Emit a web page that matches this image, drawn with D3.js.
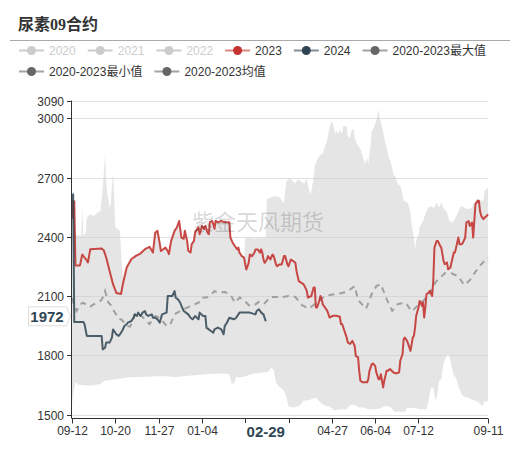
<!DOCTYPE html>
<html>
<head>
<meta charset="utf-8">
<script src="https://cdn.jsdelivr.net/npm/d3@7"></script>
<style>
  body { margin: 0; background: #fff; }
  svg { display: block; font-family: "Liberation Sans", Arial, "Noto Sans CJK SC", sans-serif; }
</style>
</head>
<body>
<svg id="chart" width="519" height="460"></svg>
<script>
const chartTitle = '尿素09合约';
const watermark = '紫金天风期货';
const yTicks = [1500, 1800, 2100, 2400, 2700, 3000, 3090];
const xTickLabels = ['09-12', '10-20', '11-27', '01-04', '02-11', '03-20', '04-27', '06-04', '07-12', '09-11'];
const legendNames = ['2020', '2021', '2022', '2023', '2024', '2020-2023最大值', '2020-2023最小值', '2020-2023均值'];
const legendColors = ['#ccc', '#ccc', '#ccc', '#c23531', '#2f4554', '#666', '#666', '#666'];
const legendOff = [true, true, true, false, false, false, false, false];

// 2023 contract
const s2023 = [
  ['09-12',2490],['09-13',2580],['09-14',2580],['09-15',2255],['09-19',2255],['09-21',2310],['09-23',2295],['09-25',2280],['09-26',2270],['09-28',2337],
  ['10-08',2340],['10-10',2330],['10-12',2295],['10-15',2227],['10-18',2160],['10-21',2115],['10-25',2110],['10-27',2170],['10-30',2244],
  ['11-03',2286],['11-07',2303],['11-11',2315],['11-15',2337],['11-19',2349],['11-22',2320],['11-24',2420],['11-26',2430],['11-28',2365],['11-29',2328],
  ['12-03',2345],['12-05',2328],['12-06',2312],['12-08',2379],['12-11',2430],['12-13',2447],['12-15',2480],['12-17',2396],['12-19',2390],['12-20',2430],
  ['12-22',2380],['12-23',2329],['12-25',2320],['12-26',2362],['12-28',2379],['12-29',2421],['12-31',2440],
  ['01-01',2447],['01-02',2413],['01-04',2455],['01-06',2440],['01-07',2455],['01-09',2420],['01-10',2413],['01-11',2475],['01-13',2480],['01-14',2463],
  ['01-15',2440],['01-16',2480],['01-18',2473],['01-21',2480],['01-24',2473],['01-28',2473],['01-29',2395],['01-31',2370],
  ['02-02',2352],['02-04',2336],['02-05',2345],['02-06',2319],['02-08',2302],['02-10',2294],['02-11',2260],['02-12',2234],['02-14',2268],['02-15',2310],
  ['02-17',2302],['02-19',2319],['02-20',2336],['02-22',2336],['02-24',2319],['02-25',2336],['02-26',2319],['02-27',2285],['02-28',2268],
  ['03-01',2285],['03-02',2302],['03-04',2285],['03-06',2310],['03-07',2302],['03-09',2260],['03-10',2251],['03-12',2260],['03-14',2260],['03-16',2302],
  ['03-17',2302],['03-19',2260],['03-20',2251],['03-22',2285],['03-24',2277],['03-26',2268],['03-27',2226],['03-29',2175],
  ['04-02',2160],['04-03',2151],['04-05',2126],['04-06',2092],['04-09',2100],['04-11',2143],['04-12',2143],['04-13',2042],['04-14',2042],['04-16',2076],
  ['04-17',2100],['04-18',2085],['04-19',2058],['04-21',2042],['04-23',2025],['04-25',1991],['04-28',2000],
  ['05-01',2000],['05-04',1995],['05-05',1958],['05-06',1958],['05-08',1924],['05-09',1907],['05-10',1890],['05-11',1865],['05-13',1857],['05-15',1873],
  ['05-17',1848],['05-18',1797],['05-20',1789],['05-21',1721],['05-22',1671],['05-24',1663],['05-28',1663],['05-29',1679],['05-30',1721],
  ['06-01',1755],['06-02',1758],['06-04',1746],['06-05',1713],['06-07',1679],['06-08',1679],['06-09',1704],['06-11',1637],['06-12',1671],['06-14',1721],
  ['06-15',1721],['06-17',1730],['06-20',1713],['06-23',1708],['06-25',1713],['06-26',1772],['06-28',1805],['06-29',1882],['06-30',1890],
  ['07-02',1873],['07-04',1839],['07-05',1822],['07-07',1890],['07-08',1898],['07-09',1941],['07-10',2000],['07-12',2042],['07-13',2075],['07-14',2067],
  ['07-15',2050],['07-16',2067],['07-17',1991],['07-18',2042],['07-19',2109],['07-21',2118],['07-22',2126],['07-24',2100],['07-25',2177],['07-26',2345],
  ['07-28',2379],['07-29',2379],['07-31',2354],
  ['08-01',2345],['08-03',2278],['08-04',2261],['08-06',2270],['08-07',2236],['08-09',2244],['08-10',2270],['08-12',2320],['08-13',2320],['08-14',2345],
  ['08-16',2396],['08-17',2362],['08-19',2362],['08-20',2370],['08-22',2396],['08-23',2472],['08-25',2480],['08-26',2455],['08-28',2472],['08-29',2396],
  ['08-30',2480],['08-31',2565],
  ['09-02',2582],['09-03',2582],['09-04',2531],['09-05',2506],['09-07',2489],['09-08',2497],['09-10',2506],['09-11',2514]
];

// 2024 contract (up to 02-29)
const s2024 = [
  ['09-12',2580],['09-13',2615],['09-14',1968],['09-22',1968],['09-23',1957],['09-25',1898],
  ['10-08',1898],['10-09',1830],['10-11',1838],['10-12',1864],['10-15',1864],['10-17',1889],['10-18',1931],['10-20',1914],['10-21',1906],['10-23',1898],
  ['10-24',1906],['10-26',1923],['10-28',1948],['10-30',1957],['10-31',1965],
  ['11-03',1973],['11-05',1990],['11-06',2007],['11-08',1999],['11-09',2016],['11-11',1999],['11-13',2016],['11-15',2024],['11-16',2007],['11-18',1999],
  ['11-21',2007],['11-22',1990],['11-24',1990],['11-26',1982],['11-28',1965],['11-30',2007],
  ['12-04',2016],['12-05',2100],['12-09',2100],['12-11',2125],['12-12',2091],['12-14',2083],['12-16',2066],['12-17',2050],['12-19',2024],['12-21',2016],
  ['12-23',2007],['12-25',1990],['12-27',1982],['12-29',1999],
  ['01-01',1982],['01-02',2016],['01-05',1999],['01-07',1999],['01-08',1940],['01-10',1931],['01-12',1923],['01-14',1914],['01-15',1931],['01-18',1940],
  ['01-21',1931],['01-23',1906],['01-24',1948],['01-26',1965],['01-28',1990],
  ['02-01',1982],['02-03',1990],['02-06',2016],['02-15',2016],['02-20',2007],['02-21',2024],['02-23',2033],['02-25',2016],['02-27',2007],['02-29',1972]
];

// 2020-2023 mean
const sMean = [
  ['09-12',2090],['09-14',2050],['09-16',2024],['09-19',2058],['09-22',2066],['09-25',2053],['09-28',2046],['10-01',2058],['10-07',2075],['10-09',2092],
  ['10-11',2125],['10-14',2066],['10-17',2049],['10-18',2032],['10-23',1985],['10-26',1978],['10-30',1948],['11-02',1945],['11-06',2002],['11-09',2016],
  ['11-15',1982],['11-19',1957],['11-24',1999],['11-28',1990],['12-04',1948],['12-07',1952],['12-11',2007],['12-16',2024],['12-20',2036],['12-25',2049],
  ['01-01',2066],['01-04',2092],['01-08',2092],['01-11',2100],['01-15',2125],['01-18',2117],['01-24',2120],['01-29',2108],['02-02',2066],['02-06',2092],
  ['02-09',2083],['02-15',2049],['02-20',2058],['02-24',2075],['02-28',2063],['03-04',2095],['03-10',2095],['03-15',2095],['03-20',2100],['03-26',2095],
  ['04-01',2053],['04-07',2035],['04-12',2060],['04-19',2092],['04-25',2105],['05-01',2110],['05-10',2120],['05-17',2150],['05-20',2080],['05-27',2035],
  ['06-01',2110],['06-05',2150],['06-09',2160],['06-14',2085],['06-19',2025],['06-24',2060],['07-01',2065],['07-06',2022],['07-11',2050],['07-17',2080],
  ['07-23',2125],['07-27',2170],['08-04',2215],['08-10',2215],['08-16',2200],['08-21',2155],['08-26',2180],['08-30',2215],['09-05',2260],['09-11',2295]
];

// 2020-2023 max
const sMax = [
  ['09-12',2580],['09-14',2580],['09-15',2410],['09-20',2404],['09-21',2548],['09-22',2404],['09-24',2420],['09-25',2497],['09-28',2514],['10-01',2505],
  ['10-04',2520],['10-07',2530],['10-08',2590],['10-09',2650],['10-11',2810],['10-12',2683],['10-13',2615],['10-15',2548],['10-16',2565],['10-17',2660],
  ['10-18',2717],['10-19',2600],['10-20',2447],['10-24',2430],['10-25',2329],['10-26',2244],['10-27',2185],['10-30',2244],
  ['11-03',2286],['11-07',2303],['11-11',2315],['11-15',2337],['11-19',2349],['11-22',2320],['11-24',2420],['11-26',2430],['11-28',2365],['11-29',2328],
  ['12-03',2345],['12-05',2328],['12-06',2312],['12-08',2379],['12-11',2430],['12-13',2447],['12-15',2480],['12-17',2396],['12-19',2390],['12-20',2430],
  ['12-22',2380],['12-23',2329],['12-25',2320],['12-26',2362],['12-28',2379],['12-29',2421],['12-31',2440],
  ['01-01',2447],['01-02',2413],['01-04',2455],['01-06',2440],['01-07',2455],['01-09',2420],['01-10',2413],['01-11',2475],['01-13',2480],['01-14',2463],
  ['01-15',2440],['01-16',2480],['01-18',2473],['01-21',2480],['01-24',2473],['01-28',2473],['01-29',2395],['01-31',2370],
  ['02-02',2352],['02-04',2336],['02-05',2345],['02-06',2319],['02-08',2302],['02-10',2294],['02-11',2390],['02-12',2395],['02-19',2390],['02-24',2395],
  ['02-29',2395],['03-01',2590],['03-05',2600],['03-08',2605],['03-12',2600],['03-16',2570],['03-18',2680],['03-21',2698],['03-24',2680],['03-26',2670],
  ['03-28',2690],['03-31',2680],['04-03',2670],['04-05',2695],['04-06',2665],['04-08',2615],['04-09',2630],['04-11',2700],['04-12',2760],['04-15',2800],
  ['04-17',2815],['04-19',2820],['04-21',2860],['04-23',2890],['04-25',2960],['04-27',2987],['04-28',2970],['04-30',2920],['05-01',2935],['05-03',2920],
  ['05-04',2945],['05-06',2920],['05-07',2960],['05-10',2960],['05-11',2910],['05-13',2900],['05-14',2935],['05-16',2950],['05-17',2900],['05-19',2870],
  ['05-22',2845],['05-24',2810],['05-26',2767],['05-28',2800],['05-29',2767],['05-31',2870],['06-01',2935],['06-03',2955],['06-05',2990],['06-07',3045],
  ['06-08',3000],['06-10',2960],['06-12',2900],['06-13',2870],['06-14',2852],['06-16',2800],['06-18',2770],['06-20',2717],['06-22',2700],['06-24',2666],
  ['06-26',2660],['06-27',2640],['06-29',2582],['07-02',2575],['07-03',2565],['07-05',2523],['07-06',2464],['07-08',2396],['07-09',2337],['07-10',2380],
  ['07-12',2413],['07-13',2447],['07-16',2480],['07-18',2514],['07-20',2540],['07-22',2556],['07-24',2550],['07-26',2548],['07-28',2573],['07-30',2550],
  ['08-01',2573],['08-03',2545],['08-05',2530],['08-06',2523],['08-08',2480],['08-11',2472],['08-13',2490],['08-15',2514],['08-17',2540],['08-19',2556],
  ['08-22',2545],['08-25',2539],['08-28',2550],['08-30',2570],['09-01',2590],['09-03',2590],['09-05',2582],['09-07',2582],['09-08',2632],['09-11',2649]
];

// 2020-2023 min
const sMin = [
  ['09-12',1555],['09-13',1600],['09-15',1665],['09-18',1650],['09-22',1650],['09-26',1645],['10-02',1650],['10-07',1655],['10-10',1670],['10-15',1675],
  ['10-22',1680],['11-01',1688],['11-11',1690],['11-21',1692],['12-01',1695],['12-11',1690],['12-21',1695],['12-31',1700],['01-10',1705],['01-20',1708],
  ['01-28',1705],['01-30',1660],['02-01',1655],['02-03',1688],['02-09',1690],['02-17',1705],['02-24',1712],['03-02',1715],['03-05',1738],['03-07',1725],
  ['03-09',1660],['03-12',1640],['03-16',1620],['03-18',1590],['03-20',1540],['03-25',1535],['03-30',1545],['04-02',1570],['04-08',1575],['04-13',1586],
  ['04-17',1560],['04-21',1545],['04-25',1540],['04-29',1520],['05-05',1527],['05-10',1525],['05-13',1550],['05-17',1548],['05-21',1535],['05-25',1535],
  ['05-29',1527],['06-03',1525],['06-08',1530],['06-13',1545],['06-18',1535],['06-21',1514],['06-30',1514],['07-02',1533],['07-09',1533],['07-13',1527],
  ['07-19',1527],['07-21',1575],['07-23',1635],['07-25',1635],['07-26',1600],['07-27',1575],['07-28',1580],['07-30',1670],['08-01',1680],['08-03',1760],
  ['08-06',1803],['08-08',1803],['08-10',1745],['08-12',1700],['08-14',1685],['08-16',1643],['08-19',1600],['08-21',1590],['08-25',1585],['08-28',1575],
  ['09-01',1568],['09-04',1555],['09-06',1542],['09-08',1565],['09-11',1568]
];

const svg = d3.select('#chart');
const plotL = 72, plotR = 488, plotT = 100.5, plotB = 414.5, axisY = 418.5;

// one category per calendar day, 09-12 .. 09-11 (leap year)
const days = d3.timeDay.range(new Date(2023, 8, 12), new Date(2024, 8, 12)).map(d3.timeFormat('%m-%d'));
const x = d3.scalePoint().domain(days).range([plotL, plotR]);
const y = d3.scaleLinear().domain([1500, 3090]).range([plotB, plotT]);

// axis pointer sits on the last 2024 point
const last = s2024[s2024.length - 1];
const px = x(last[0]);

// title
svg.append('text')
  .attr('x', 18).attr('y', 30)
  .attr('font-family', '"Liberation Serif", "DejaVu Serif", "Noto Sans CJK SC", serif')
  .attr('font-weight', 'bold').attr('font-size', 16).attr('fill', '#333')
  .text(chartTitle);
svg.append('line')
  .attr('x1', 10).attr('x2', 510).attr('y1', 40.5).attr('y2', 40.5)
  .attr('stroke', '#aaa');

// legend, wraps into two rows
let lx = 19, ly = 50.5;
legendNames.forEach((name, i) => {
  const g = svg.append('g');
  const col = legendOff[i] ? '#ccc' : legendColors[i];
  const t = g.append('text')
    .attr('y', 0).attr('dy', '0.35em')
    .attr('font-size', 12).attr('fill', legendOff[i] ? '#ccc' : '#333')
    .text(name);
  const w = t.node().getComputedTextLength();
  if (lx + 30 + w > 500) { lx = 19; ly += 21; }
  g.attr('transform', `translate(${lx},${ly})`);
  t.attr('x', 30);
  g.insert('line', 'text')
    .attr('x1', 0).attr('x2', 25).attr('y1', 0).attr('y2', 0)
    .attr('stroke', col).attr('stroke-width', 2)
    .attr('stroke-opacity', legendOff[i] ? 1 : 0.6);
  g.insert('circle', 'text')
    .attr('cx', 12.5).attr('cy', 0).attr('r', 4.5).attr('fill', col);
  lx += 30 + w + 12;
});

// grid
svg.append('g').selectAll('line')
  .data(yTicks).enter().append('line')
  .attr('x1', plotL).attr('x2', plotR)
  .attr('y1', d => Math.round(y(d)) + 0.5).attr('y2', d => Math.round(y(d)) + 0.5)
  .attr('stroke', '#e0e0e0');

const plot = svg.append('g');
const pt = d => [x(d[0]), y(d[1])];
const line = d3.line();

// max/min band
const bandPts = sMax.map(pt).concat(sMin.map(pt).reverse());
plot.append('path')
  .attr('d', line(bandPts) + 'Z')
  .attr('fill', '#cccccc').attr('fill-opacity', 0.5);

// watermark
svg.append('text')
  .attr('x', 258).attr('y', 230)
  .attr('text-anchor', 'middle')
  .attr('font-family', '"Noto Sans CJK SC", sans-serif')
  .attr('font-size', 22).attr('fill', '#000').attr('fill-opacity', 0.17)
  .text(watermark);

plot.append('path')
  .attr('d', line(sMean.map(pt)))
  .attr('fill', 'none').attr('stroke', '#a0a0a0').attr('stroke-width', 2)
  .attr('stroke-dasharray', '6,5');

plot.append('path')
  .attr('d', line(s2023.map(pt)))
  .attr('fill', 'none').attr('stroke', '#c23531').attr('stroke-width', 2)
  .attr('stroke-linejoin', 'round').attr('stroke-opacity', 0.9);

plot.append('path')
  .attr('d', line(s2024.map(pt)))
  .attr('fill', 'none').attr('stroke', '#2f4554').attr('stroke-width', 2)
  .attr('stroke-linejoin', 'round').attr('stroke-opacity', 0.85);

// y axis
svg.append('line')
  .attr('x1', plotL - 0.5).attr('x2', plotL - 0.5).attr('y1', plotT).attr('y2', axisY)
  .attr('stroke', '#333');
const yg = svg.append('g').selectAll('g').data(yTicks).enter().append('g')
  .attr('transform', d => `translate(0,${Math.round(y(d)) + 0.5})`);
yg.append('line').attr('x1', plotL - 5).attr('x2', plotL).attr('stroke', '#333');
yg.append('text')
  .attr('x', plotL - 8).attr('dy', '0.35em').attr('text-anchor', 'end')
  .attr('font-size', 12).attr('fill', '#333')
  .text(d => d);

// x axis; labels under the pointer badge are covered by it
svg.append('line')
  .attr('x1', plotL - 0.5).attr('x2', plotR).attr('y1', axisY).attr('y2', axisY)
  .attr('stroke', '#333');
const xg = svg.append('g').selectAll('g').data(xTickLabels).enter().append('g')
  .attr('transform', d => `translate(${Math.round(x(d)) + 0.5},0)`);
xg.append('line').attr('y1', axisY).attr('y2', axisY + 5).attr('stroke', '#333');
xg.filter(d => Math.abs(x(d) - px) > 30).append('text')
  .attr('y', 431).attr('dy', '0.35em').attr('text-anchor', 'middle')
  .attr('font-size', 12).attr('fill', '#333')
  .text(d => d);

// axis pointer labels
svg.append('rect')
  .attr('x', px - 34).attr('y', 423).attr('width', 68).attr('height', 17)
  .attr('fill', '#fff');
svg.append('text')
  .attr('x', px).attr('y', 431).attr('dy', '0.37em').attr('text-anchor', 'middle')
  .attr('font-size', 15).attr('font-weight', 'bold').attr('fill', '#2f4554')
  .text(last[0]);

const py = y(last[1]) - 5;
svg.append('path')
  .attr('d', `M28.5,${py - 9.5}H66.5L70.5,${py}L66.5,${py + 9.5}H28.5Z`)
  .attr('fill', '#fff').attr('stroke', '#ddd');
svg.append('text')
  .attr('x', 47).attr('y', py).attr('dy', '0.37em').attr('text-anchor', 'middle')
  .attr('font-size', 15).attr('font-weight', 'bold').attr('fill', '#2f4554')
  .text(last[1]);
</script>
</body>
</html>
